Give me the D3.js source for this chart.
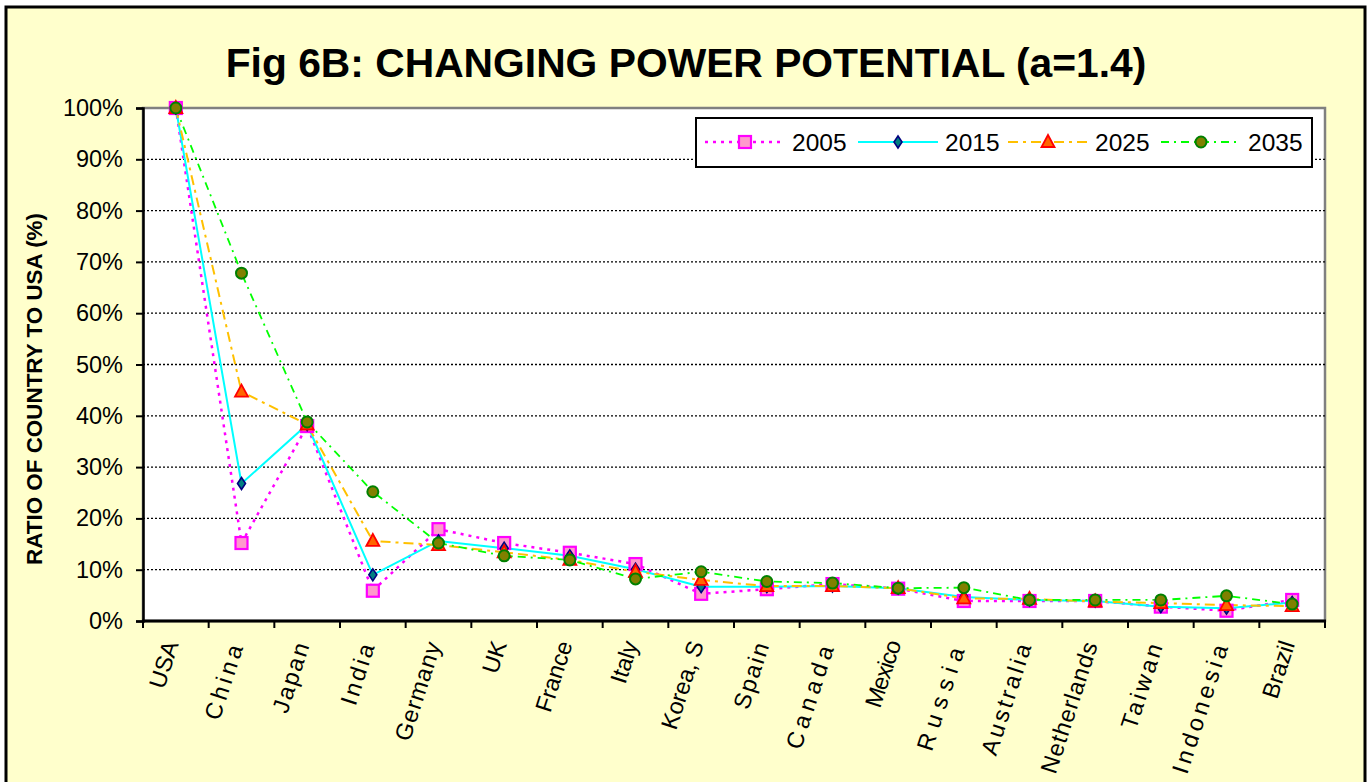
<!DOCTYPE html>
<html>
<head>
<meta charset="utf-8">
<script src="https://cdn.jsdelivr.net/npm/d3@7"></script>
<style>
  body { margin: 0; background: #fff; }
  svg text { font-family: "Liberation Sans", Arial, sans-serif; }
</style>
</head>
<body>
<svg id="chart" width="1372" height="782"></svg>
<script>
const countries = ["USA", "China", "Japan", "India", "Germany", "UK", "France", "Italy", "Korea, S",
    "Spain", "Canada", "Mexico", "Russia", "Australia", "Netherlands", "Taiwan", "Indonesia", "Brazil"];

// ratio to USA, in %
const y2005 = [100, 15.2, 38.0, 5.9, 17.9, 15.2, 13.3, 11.1, 5.3, 6.2, 7.2, 6.3, 3.9, 3.9, 3.9, 2.8, 2.0, 4.1];
const y2015 = [100, 26.8, 38.3, 9.0, 15.6, 14.2, 12.7, 10.1, 6.7, 6.7, 6.8, 6.4, 4.7, 4.1, 3.9, 2.8, 2.5, 3.6];
const y2025 = [100, 44.7, 38.3, 15.6, 14.8, 13.4, 11.9, 9.6, 8.0, 6.8, 6.8, 6.4, 4.4, 4.3, 3.8, 3.5, 3.1, 2.9];
const y2035 = [100, 67.8, 38.8, 25.2, 15.2, 12.7, 11.9, 8.2, 9.6, 7.7, 7.4, 6.4, 6.5, 4.1, 4.1, 4.1, 4.9, 3.3];

const yTicks = [0, 10, 20, 30, 40, 50, 60, 70, 80, 90, 100];

const series = [
    {name: "2005", values: y2005, stroke: "#FF00FF", dash: "3,5", width: 2.5, marker: "square", fill: "#FF99CC", mstroke: "#FF00FF"},
    {name: "2015", values: y2015, stroke: "#00FFFF", dash: null, width: 2, marker: "diamond", fill: "#008080", mstroke: "#000080"},
    {name: "2025", values: y2025, stroke: "#FFC000", dash: "10,5,3,5", width: 2, marker: "triangle", fill: "#FF6600", mstroke: "#FF0000"},
    {name: "2035", values: y2035, stroke: "#00FF00", dash: "8,5,2,5", width: 1.8, marker: "circle", fill: "#808000", mstroke: "#008000"}
];

// extra letter spacing the original applies on some labels
const labelSpacing = {"China": 4, "Japan": 2, "India": 3, "Germany": 1, "Spain": 2, "Canada": 5,
    "Mexico": -1, "Russia": 7, "Australia": 3, "Netherlands": 1, "Taiwan": 3, "Indonesia": 4};

const plot = {left: 143, right: 1325, top: 108, bottom: 621};

const svg = d3.select("#chart");

// outer chart area
svg.append("rect")
    .attr("x", 6).attr("y", 7)
    .attr("width", 1359).attr("height", 790)
    .attr("fill", "#FFFFCC")
    .attr("stroke", "#000").attr("stroke-width", 3);

// plot area
svg.append("rect")
    .attr("x", plot.left).attr("y", plot.top)
    .attr("width", plot.right - plot.left).attr("height", plot.bottom - plot.top)
    .attr("fill", "#fff")
    .attr("stroke", "#808080").attr("stroke-width", 2.5);

const x = d3.scaleBand().domain(countries).range([plot.left, plot.right]);
const y = d3.scaleLinear().domain([0, 100]).range([plot.bottom, plot.top]);
const cx = d => x(d) + x.bandwidth() / 2;

// gridlines
svg.append("g")
    .selectAll("line")
    .data(yTicks.filter(t => t > 0 && t < 100))
    .enter()
    .append("line")
    .attr("x1", plot.left).attr("x2", plot.right)
    .attr("y1", d => y(d)).attr("y2", d => y(d))
    .attr("stroke", "#000")
    .attr("stroke-width", 1.3)
    .attr("stroke-dasharray", "2,2");

// y axis
const yAxis = svg.append("g")
    .attr("transform", `translate(${plot.left},0)`)
    .call(d3.axisLeft(y).tickValues(yTicks).tickSize(7).tickPadding(13).tickFormat(d => d + "%"));
yAxis.select(".domain").attr("stroke", "#000").attr("stroke-width", 2.5);
yAxis.selectAll(".tick line").attr("stroke", "#000").attr("stroke-width", 2);
yAxis.selectAll("text")
    .attr("font-size", 23.5)
    .attr("font-family", "Liberation Sans, Arial, sans-serif")
    .attr("fill", "#000");

// x axis: ticks sit on the band edges
const xAxis = svg.append("g");
xAxis.append("line")
    .attr("x1", plot.left - 1).attr("x2", plot.right + 1)
    .attr("y1", plot.bottom).attr("y2", plot.bottom)
    .attr("stroke", "#000").attr("stroke-width", 3);
xAxis.selectAll(".xtick")
    .data(countries.concat(["__end"]))
    .enter()
    .append("line")
    .attr("class", "xtick")
    .attr("x1", d => d === "__end" ? plot.right : x(d))
    .attr("x2", d => d === "__end" ? plot.right : x(d))
    .attr("y1", plot.bottom).attr("y2", plot.bottom + 7)
    .attr("stroke", "#000").attr("stroke-width", 2);

xAxis.selectAll(".xlabel")
    .data(countries)
    .enter()
    .append("text")
    .attr("class", "xlabel")
    .attr("text-anchor", "end")
    .attr("font-size", 23.5)
    .attr("letter-spacing", d => labelSpacing[d] || 0)
    .attr("transform", d => `translate(${cx(d) + 3},${plot.bottom + 23}) rotate(-72)`)
    .text(d => d);

// lines
const line = d3.line()
    .x((d, i) => cx(countries[i]))
    .y(d => y(d));

series.forEach(s => {
    svg.append("path")
        .datum(s.values)
        .attr("d", line)
        .attr("fill", "none")
        .attr("stroke", s.stroke)
        .attr("stroke-width", s.width)
        .attr("stroke-dasharray", s.dash);
});

function drawMarker(g, type, fill, stroke) {
    if (type === "square") {
        g.append("rect").attr("x", -6).attr("y", -6).attr("width", 12).attr("height", 12)
            .attr("fill", fill).attr("stroke", stroke).attr("stroke-width", 2.2);
    } else if (type === "diamond") {
        g.append("path").attr("d", "M0,-6L4,0L0,6L-4,0Z")
            .attr("fill", fill).attr("stroke", stroke).attr("stroke-width", 1.6);
    } else if (type === "triangle") {
        g.append("path").attr("d", "M0,-7L6.5,5L-6.5,5Z")
            .attr("fill", fill).attr("stroke", stroke).attr("stroke-width", 1.8);
    } else {
        g.append("circle").attr("r", 5.5)
            .attr("fill", fill).attr("stroke", stroke).attr("stroke-width", 2);
    }
}

series.forEach(s => {
    s.values.forEach((v, i) => {
        const g = svg.append("g").attr("transform", `translate(${cx(countries[i])},${y(v)})`);
        drawMarker(g, s.marker, s.fill, s.mstroke);
    });
});

// legend
const legend = svg.append("g");
legend.append("rect")
    .attr("x", 696).attr("y", 118)
    .attr("width", 616).attr("height", 49)
    .attr("fill", "#fff")
    .attr("stroke", "#000").attr("stroke-width", 2);

const legendX = [705, 858, 1008, 1161];
series.forEach((s, i) => {
    const g = legend.append("g").attr("transform", `translate(${legendX[i]},142)`);
    g.append("line")
        .attr("x1", 0).attr("x2", 80)
        .attr("stroke", s.stroke)
        .attr("stroke-width", s.width)
        .attr("stroke-dasharray", s.dash);
    const m = g.append("g").attr("transform", "translate(40,0)");
    drawMarker(m, s.marker, s.fill, s.mstroke);
    g.append("text")
        .attr("x", 87).attr("y", 9)
        .attr("font-size", 24.5)
        .text(s.name);
});

// title
svg.append("text")
    .attr("x", 686).attr("y", 77)
    .attr("text-anchor", "middle")
    .attr("font-size", 40.8)
    .attr("font-weight", "bold")
    .text("Fig 6B: CHANGING POWER POTENTIAL (a=1.4)");

// y axis title
svg.append("text")
    .attr("transform", "translate(42,389) rotate(-90)")
    .attr("text-anchor", "middle")
    .attr("font-size", 22)
    .attr("font-weight", "bold")
    .attr("textLength", 352)
    .attr("lengthAdjust", "spacingAndGlyphs")
    .text("RATIO OF COUNTRY TO USA (%)");
</script>
</body>
</html>
